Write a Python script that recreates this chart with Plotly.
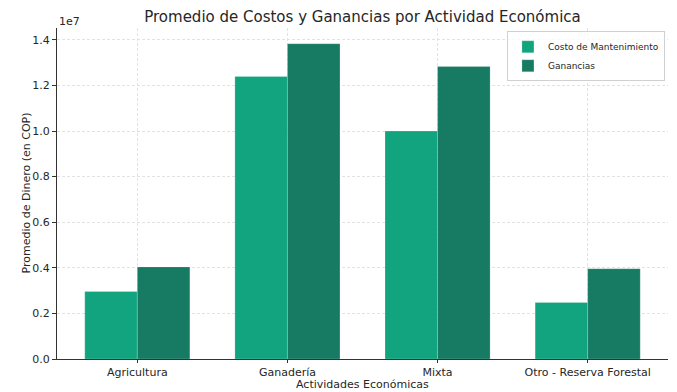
import plotly.graph_objects as go

actividades = ["Agricultura", "Ganadería", "Mixta", "Otro - Reserva Forestal"]
costo_mantenimiento = [2.96e6, 12.39e6, 10.0e6, 2.48e6]
ganancias = [4.04e6, 13.83e6, 12.83e6, 3.96e6]
y_ticks = [0, 2e6, 4e6, 6e6, 8e6, 10e6, 12e6, 14e6]
y_tick_labels = ["0.0", "0.2", "0.4", "0.6", "0.8", "1.0", "1.2", "1.4"]

font = "DejaVu Sans, sans-serif"
txt = "#262626"

fig = go.Figure()
fig.add_trace(go.Bar(
    x=actividades, y=costo_mantenimiento, name="Costo de Mantenimiento",
    marker=dict(color="#12a37f", line=dict(color="rgba(255,255,255,0.35)", width=0.6)),
))
fig.add_trace(go.Bar(
    x=actividades, y=ganancias, name="Ganancias",
    marker=dict(color="#177a62", line=dict(color="rgba(255,255,255,0.35)", width=0.6)),
))

fig.update_layout(
    width=677, height=392,
    margin=dict(l=57, r=9, t=28, b=33),
    paper_bgcolor="white", plot_bgcolor="white",
    barmode="group", bargap=0.3, bargroupgap=0,
    font=dict(family=font, size=10, color=txt),
    title=dict(text="Promedio de Costos y Ganancias por Actividad Económica",
               x=0.5, xref="paper", xanchor="center", y=0.957, yanchor="middle",
               font=dict(size=15, color=txt)),
    legend=dict(x=0.995, y=0.99, xanchor="right", yanchor="top",
                bgcolor="rgba(255,255,255,0.8)", bordercolor="#d0d0d0", borderwidth=1,
                font=dict(size=9, color=txt), tracegroupgap=0, itemwidth=30),
    xaxis=dict(
        range=[-0.535, 3.535], showline=True, linecolor="#333333", linewidth=1,
        ticks="outside", ticklen=3, tickcolor="#333333",
        showgrid=True, gridcolor="#e2e2e2", griddash="3px,2px", gridwidth=0.7,
        layer="above traces", automargin=False,
        tickfont=dict(size=11, color=txt),
    ),
    yaxis=dict(
        range=[0, 1.452e7], tickvals=y_ticks, ticktext=y_tick_labels,
        showline=True, linecolor="#333333", linewidth=1,
        ticks="outside", ticklen=4, tickcolor="#333333",
        showgrid=True, gridcolor="#e2e2e2", griddash="3px,2px", gridwidth=0.7,
        zeroline=False, layer="above traces", automargin=False,
        tickfont=dict(size=11, color=txt),
    ),
)

# axis titles placed as annotations so they sit close to the tick labels
fig.add_annotation(text="Actividades Económicas", xref="paper", yref="paper",
                   x=0.5, y=0, yshift=-25, xanchor="center", yanchor="middle",
                   showarrow=False, font=dict(size=11, color=txt))
fig.add_annotation(text="Promedio de Dinero (en COP)", xref="paper", yref="paper",
                   x=0, xshift=-31, y=0.5, xanchor="center", yanchor="middle",
                   textangle=-90, showarrow=False, font=dict(size=11, color=txt))
fig.add_annotation(text="1e7", xref="paper", yref="paper", x=0, y=1.0,
                   xanchor="left", yanchor="bottom", showarrow=False,
                   font=dict(size=11, color=txt), yshift=-2)

fig.write_html("out.html")
